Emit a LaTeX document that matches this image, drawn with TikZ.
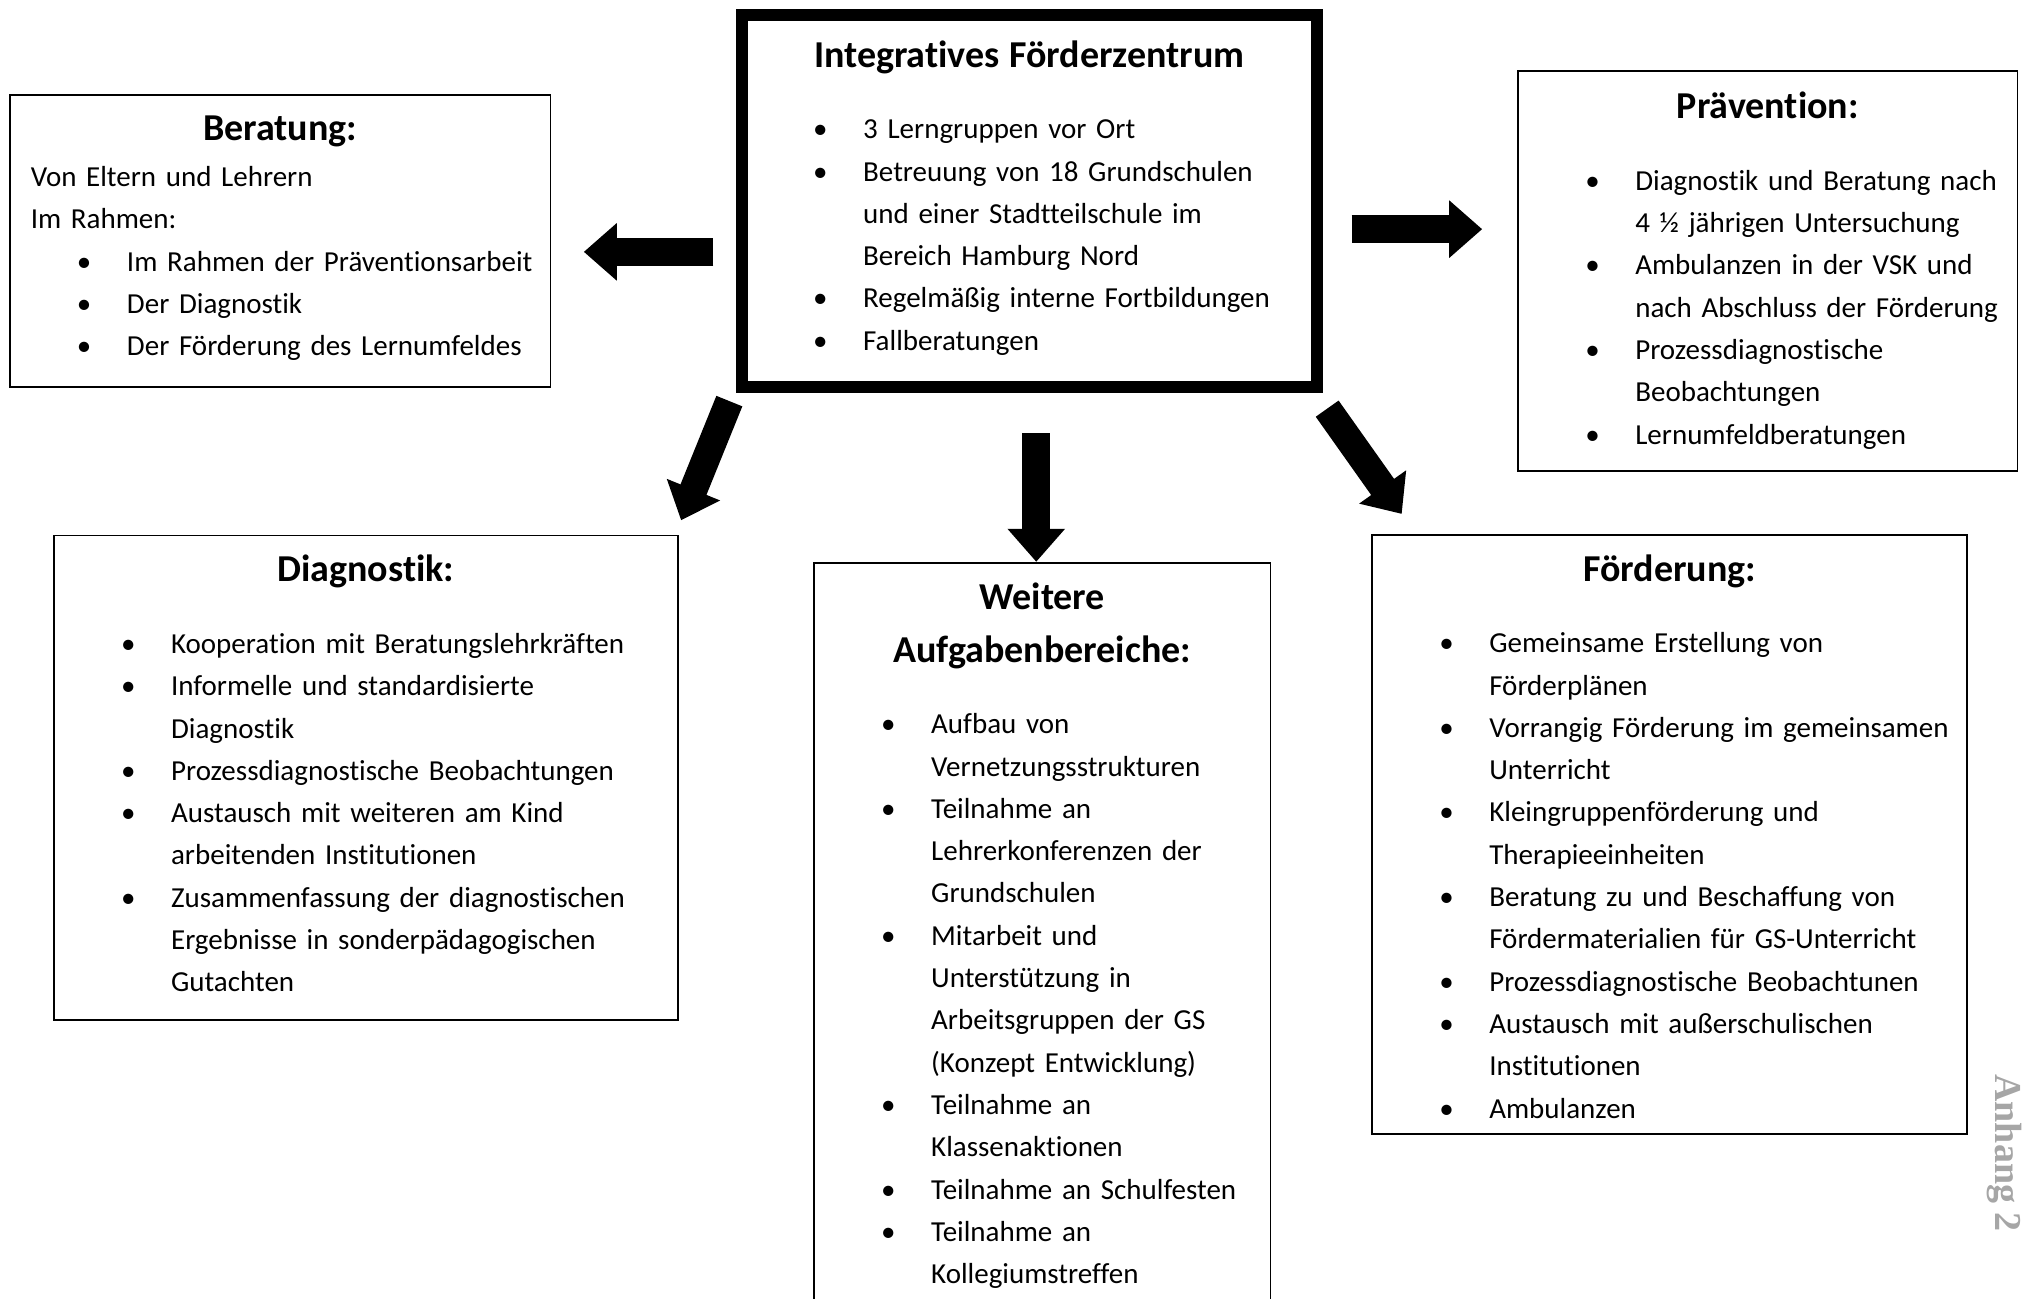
\documentclass[tikz,border=0pt]{standalone}
\usepackage{fontspec}
\setmainfont{Carlito}[Ligatures=CommonOff]
\newfontfamily\anhangfont{Liberation Serif}
\usetikzlibrary{arrows.meta, positioning}

\setlength{\parindent}{0pt}
\newcommand{\titelschrift}{\fontsize{19}{26.5}\selectfont\bfseries}
\newcommand{\titel}[1]{{\centering\titelschrift\strut#1\par}}
\newcommand{\punkt}[1]{\par\noindent\hangindent=48.1pt\hangafter=1\hspace*{26.7pt}\makebox[0pt]{\textbullet}\hspace*{21.4pt}#1\par}

\begin{document}
\begin{tikzpicture}[
    x=0.5pt, y=-0.5pt,
    box/.style={rectangle, draw, line width=0.9pt, inner sep=0pt},
    hauptbox/.style={box, line width=6pt},
    inhalt/.style={anchor=north, inner sep=0pt, font=\fontsize{14.5}{21.15}\selectfont,
        execute at begin node={\rightskip=-30pt\relax}},
    pfeil/.style={line width=14pt, -{Triangle[length=16.5pt, width=27.75pt]}},
    anhangtext/.style={font=\anhangfont\bfseries\fontsize{19}{22}\selectfont, text=black!35, rotate=-90}
]

\clip (0,0) rectangle (2026,1298);

% Kaesten
\node[hauptbox, minimum width=287.35pt, minimum height=186.15pt] (zentrum) at (1029.35,201.15) {};
\node[box, minimum width=270.35pt, minimum height=146.15pt, left=92.3pt of zentrum.west, yshift=-20pt] (beratung) {};
\node[box, minimum width=249.65pt, minimum height=200.15pt, right=97.25pt of zentrum.east, yshift=-34.85pt] (praevention) {};
\node[box, minimum width=312pt, minimum height=242.25pt, below left=70.6pt and 28.6pt of zentrum.south west] (diagnostik) {};
\node[box, minimum width=228.25pt, minimum height=400pt, below=84.25pt of zentrum.south, xshift=6.45pt] (weitere) {};
\node[box, minimum width=297.5pt, minimum height=299.5pt, below right=70.25pt and 24.25pt of zentrum.south east] (foerderung) {};

% Texte
\node[inhalt, text width=262.35pt, below=10.3pt of zentrum.north] (zentrumtext) {
  \titel{Integratives Förderzentrum}\vspace{14.65pt}
  \punkt{3 Lerngruppen vor Ort}
  \punkt{Betreuung von 18 Grundschulen\newline und einer Stadtteilschule im\newline Bereich Hamburg Nord}
  \punkt{Regelmäßig interne Fortbildungen}
  \punkt{Fallberatungen}};
\node[inhalt, text width=249.35pt, below=4.4pt of beratung.north] (beratungtext) {
  \titel{Beratung:}\vspace{1.85pt}
  \noindent Von Eltern und Lehrern\par
  \noindent Im Rahmen:\par
  \punkt{Im Rahmen der Präventionsarbeit}
  \punkt{Der Diagnostik}
  \punkt{Der Förderung des Lernumfeldes}};
\node[inhalt, text width=228.65pt, below=5.7pt of praevention.north] (praeventiontext) {
  \titel{Prävention:}\vspace{14.65pt}
  \punkt{Diagnostik und Beratung nach\newline 4 ½ jährigen Untersuchung}
  \punkt{Ambulanzen in der VSK und\newline nach Abschluss der Förderung}
  \punkt{Prozessdiagnostische\newline Beobachtungen}
  \punkt{Lernumfeldberatungen}};
\node[inhalt, text width=291pt, below=4.9pt of diagnostik.north] (diagnostiktext) {
  \titel{Diagnostik:}\vspace{14.65pt}
  \punkt{Kooperation mit Beratungslehrkräften}
  \punkt{Informelle und standardisierte\newline Diagnostik}
  \punkt{Prozessdiagnostische Beobachtungen}
  \punkt{Austausch mit weiteren am Kind\newline arbeitenden Institutionen}
  \punkt{Zusammenfassung der diagnostischen\newline Ergebnisse in sonderpädagogischen\newline Gutachten}};
\node[inhalt, text width=207.25pt, below=4.9pt of weitere.north] (weiteretext) {
  \titel{Weitere\\ Aufgabenbereiche:}\vspace{14.65pt}
  \punkt{Aufbau von\newline Vernetzungsstrukturen}
  \punkt{Teilnahme an\newline Lehrerkonferenzen der\newline Grundschulen}
  \punkt{Mitarbeit und\newline Unterstützung in\newline Arbeitsgruppen der GS\newline (Konzept Entwicklung)}
  \punkt{Teilnahme an\newline Klassenaktionen}
  \punkt{Teilnahme an Schulfesten}
  \punkt{Teilnahme an\newline Kollegiumstreffen}};
\node[inhalt, text width=276.5pt, below=4.9pt of foerderung.north] (foerderungtext) {
  \titel{Förderung:}\vspace{14.65pt}
  \punkt{Gemeinsame Erstellung von\newline Förderplänen}
  \punkt{Vorrangig Förderung im gemeinsamen\newline Unterricht}
  \punkt{Kleingruppenförderung und\newline Therapieeinheiten}
  \punkt{Beratung zu und Beschaffung von\newline Fördermaterialien für GS-Unterricht}
  \punkt{Prozessdiagnostische Beobachtunen}
  \punkt{Austausch mit außerschulischen\newline Institutionen}
  \punkt{Ambulanzen}};

% Pfeile
\coordinate (linksstart) at ([yshift=-25.35pt]zentrum.west);
\coordinate (rechtsstart) at ([yshift=-14pt]zentrum.east);
\coordinate (untenstart) at ([xshift=3.45pt]zentrum.south);
\draw[pfeil, shorten <=11.35pt, shorten >=16.2pt] (linksstart) -- (linksstart -| beratung.east);
\draw[pfeil, shorten <=14.4pt, shorten >=17.5pt] (rechtsstart) -- (rechtsstart -| praevention.west);
\draw[pfeil, shorten <=20pt] (untenstart) -- (untenstart |- weitere.north);
\draw[pfeil, shorten <=4.2pt, shorten >=7.7pt] ([xshift=-1.75pt]zentrum.south west) -- ([xshift=-1.75pt]diagnostik.north east);
\draw[pfeil, shorten <=9.4pt, shorten >=12.2pt] ([xshift=-3.2pt]zentrum.south east) -- ([xshift=22.3pt]foerderung.north west);

\node[anhangtext] (anhang) at (2004,1153) {Anhang 2};

\end{tikzpicture}
\end{document}
